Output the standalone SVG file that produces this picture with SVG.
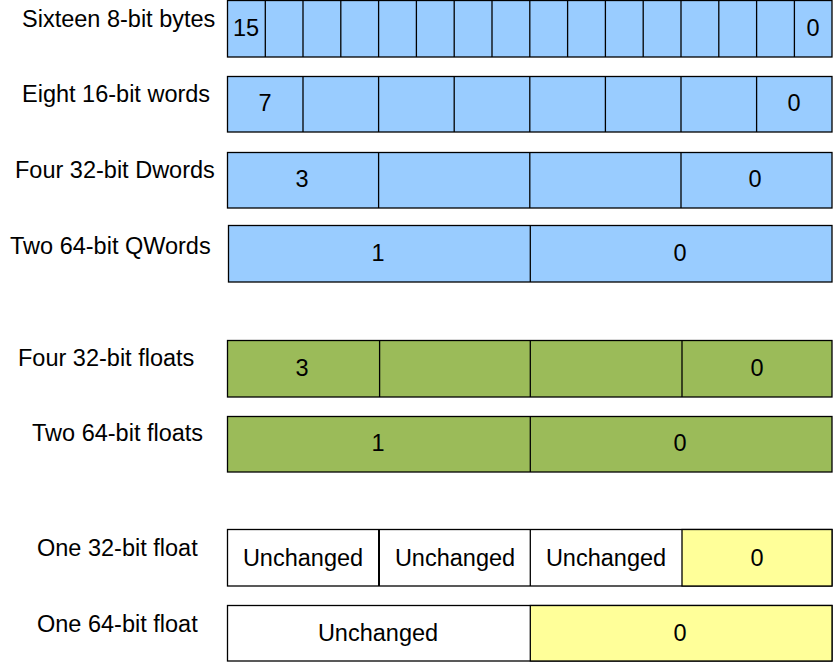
<svg xmlns="http://www.w3.org/2000/svg" width="833" height="662" viewBox="0 0 833 662">
<style>
text{font-family:"Liberation Sans",Arial,sans-serif;font-size:23.5px;fill:#000}
.c{text-anchor:middle}
.b{fill:#99ccff;stroke:#000;stroke-width:1.3}
.g{fill:#9bbb59;stroke:#000;stroke-width:1.3}
.w{fill:#fff;stroke:#000;stroke-width:1.3}
.y{fill:#ffff99;stroke:#000;stroke-width:1.3}
.d{stroke:#000;stroke-width:1.3}
</style>
<rect width="833" height="662" fill="#fff"/>
<g id="row-bytes">
<text x="22" y="27">Sixteen 8-bit bytes</text>
<rect class="b" x="227.5" y="0.5" width="604.5" height="56.5"/>
<g class="d">
<line x1="265.3" y1="0" x2="265.3" y2="57"/><line x1="303" y1="0" x2="303" y2="57"/><line x1="340.8" y1="0" x2="340.8" y2="57"/><line x1="378.6" y1="0" x2="378.6" y2="57"/><line x1="416.4" y1="0" x2="416.4" y2="57"/><line x1="454.2" y1="0" x2="454.2" y2="57"/><line x1="492" y1="0" x2="492" y2="57"/><line x1="529.8" y1="0" x2="529.8" y2="57"/><line x1="567.6" y1="0" x2="567.6" y2="57"/><line x1="605.4" y1="0" x2="605.4" y2="57"/><line x1="643.2" y1="0" x2="643.2" y2="57"/><line x1="681" y1="0" x2="681" y2="57"/><line x1="718.8" y1="0" x2="718.8" y2="57"/><line x1="756.6" y1="0" x2="756.6" y2="57"/><line x1="794.4" y1="0" x2="794.4" y2="57"/>
</g>
<text x="233" y="36">15</text>
<text class="c" x="813" y="36">0</text>
</g>
<g id="row-words">
<text x="22" y="102">Eight 16-bit words</text>
<rect class="b" x="227.5" y="76.5" width="604.5" height="55.5"/>
<g class="d">
<line x1="303" y1="76" x2="303" y2="132"/><line x1="378.6" y1="76" x2="378.6" y2="132"/><line x1="454.2" y1="76" x2="454.2" y2="132"/><line x1="529.8" y1="76" x2="529.8" y2="132"/><line x1="605.4" y1="76" x2="605.4" y2="132"/><line x1="681" y1="76" x2="681" y2="132"/><line x1="756.6" y1="76" x2="756.6" y2="132"/>
</g>
<text class="c" x="265" y="111">7</text>
<text class="c" x="794" y="111">0</text>
</g>
<g id="row-dwords">
<text x="15" y="178">Four 32-bit Dwords</text>
<rect class="b" x="227.5" y="152.5" width="604.5" height="55.5"/>
<g class="d">
<line x1="378.6" y1="152" x2="378.6" y2="208"/><line x1="529.8" y1="152" x2="529.8" y2="208"/><line x1="681" y1="152" x2="681" y2="208"/>
</g>
<text class="c" x="302" y="187">3</text>
<text class="c" x="755" y="187">0</text>
</g>
<g id="row-qwords">
<text x="10" y="254">Two 64-bit QWords</text>
<rect class="b" x="228.5" y="225.5" width="603.5" height="56.5"/>
<line class="d" x1="530.3" y1="225" x2="530.3" y2="282"/>
<text class="c" x="378" y="261">1</text>
<text class="c" x="680" y="261">0</text>
</g>
<g id="row-floats32">
<text x="18" y="366">Four 32-bit floats</text>
<rect class="g" x="227.5" y="340.5" width="604.5" height="56.5"/>
<g class="d">
<line x1="379.6" y1="340" x2="379.6" y2="397"/><line x1="530.3" y1="340" x2="530.3" y2="397"/><line x1="682" y1="340" x2="682" y2="397"/>
</g>
<text class="c" x="302" y="376">3</text>
<text class="c" x="757" y="376">0</text>
</g>
<g id="row-floats64">
<text x="32" y="441">Two 64-bit floats</text>
<rect class="g" x="227.5" y="416.5" width="604.5" height="55.5"/>
<line class="d" x1="530.3" y1="416" x2="530.3" y2="472"/>
<text class="c" x="378" y="451">1</text>
<text class="c" x="680" y="451">0</text>
</g>
<g id="row-scalar32">
<text x="37" y="556">One 32-bit float</text>
<rect class="w" x="227.5" y="529.5" width="604.5" height="56.5"/>
<rect class="y" x="682" y="529.5" width="150" height="56.5"/>
<g class="d">
<line x1="379" y1="529" x2="379" y2="586" stroke-width="2"/><line x1="530.3" y1="529" x2="530.3" y2="586"/>
</g>
<text class="c" x="303" y="566">Unchanged</text>
<text class="c" x="455" y="566">Unchanged</text>
<text class="c" x="606" y="566">Unchanged</text>
<text class="c" x="757" y="566">0</text>
</g>
<g id="row-scalar64">
<text x="37" y="632">One 64-bit float</text>
<rect class="w" x="227.5" y="605.5" width="604.5" height="55.5"/>
<rect class="y" x="530.3" y="605.5" width="301.7" height="55.5"/>
<text class="c" x="378" y="641">Unchanged</text>
<text class="c" x="680" y="641">0</text>
</g>
</svg>
